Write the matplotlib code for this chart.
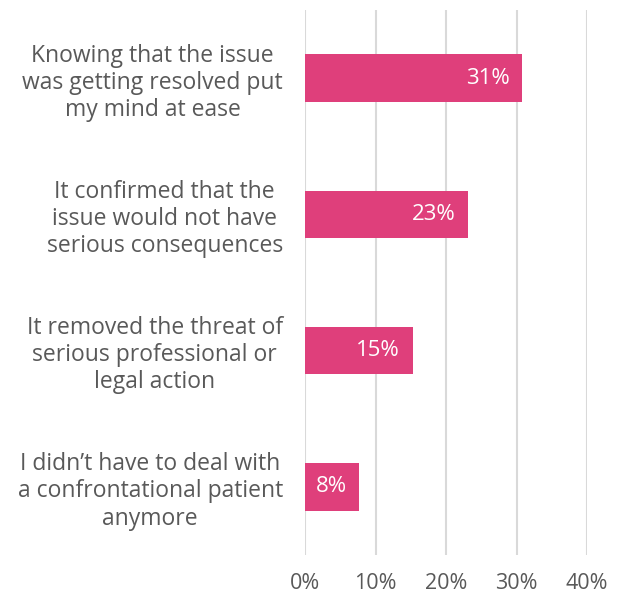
import matplotlib.pyplot as plt

plt.rcParams['font.family'] = ['Open Sans', 'DejaVu Sans']

# survey answers, top to bottom
reasons = [
    'Knowing that the issue\nwas getting resolved put\nmy mind at ease',
    'It confirmed that the\nissue would not have\nserious consequences',
    'It removed the threat of\nserious professional or\nlegal action',
    'I didn\u2019t have to deal with\na confrontational patient\nanymore',
]
shares = [30.8, 23.1, 15.3, 7.7]
xticks = [0, 10, 20, 30, 40]

bar_color = '#DF3F7B'
text_color = '#595959'
grid_color = '#D9D9D9'


def main():
    fig = plt.figure(figsize=(6.22, 5.94), dpi=100)
    ax = fig.add_axes([305 / 622, 1 - 555 / 594, 282 / 622, 545 / 594])

    ypos = list(range(len(reasons)))
    ax.barh(ypos, shares, height=0.35, color=bar_color, zorder=2)

    for y, v in zip(ypos, shares):
        ax.text(v - 1.8, y, f'{v:.0f}%', ha='right', va='center',
                color='white', fontsize=16)

    ax.set_ylim(len(reasons) - 0.5, -0.5)
    ax.set_xlim(0, 40)
    ax.set_yticks(ypos)
    ax.set_yticklabels(reasons, fontsize=16.5, color=text_color,
                       multialignment='center', linespacing=1.18)
    ax.set_xticks(xticks)
    ax.set_xticklabels([f'{t}%' for t in xticks], fontsize=15.5,
                       color=text_color)

    ax.tick_params(axis='y', length=0, pad=16)
    ax.tick_params(axis='x', length=0, pad=13)
    for s in ax.spines.values():
        s.set_visible(False)
    ax.grid(axis='x', color=grid_color, linewidth=1.5, zorder=0)
    ax.set_axisbelow(True)

    fig.savefig('out.png', dpi=100)


if __name__ == '__main__':
    main()
